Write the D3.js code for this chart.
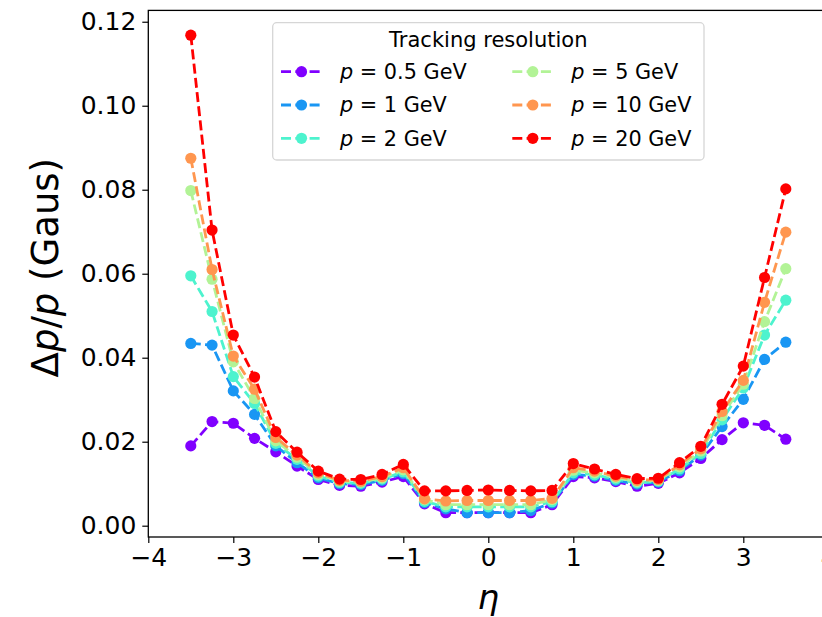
<!DOCTYPE html>
<html>
<head>
<meta charset="utf-8">
<script src="https://cdn.jsdelivr.net/npm/d3@7"></script>
<style>
  html, body { margin: 0; padding: 0; background: #fff; }
  svg { display: block; font-family: "DejaVu Sans", sans-serif; }
</style>
</head>
<body>
<svg id="chart" width="822" height="617"></svg>
<script>
const eta = [-3.5, -3.25, -3, -2.75, -2.5, -2.25, -2, -1.75, -1.5, -1.25, -1, -0.75, -0.5, -0.25, 0,
             0.25, 0.5, 0.75, 1, 1.25, 1.5, 1.75, 2, 2.25, 2.5, 2.75, 3, 3.25, 3.5];

const momenta = ["0.5", "1", "2", "5", "10", "20"];

const res_0p5 = [0.0190, 0.0248, 0.0244, 0.0208, 0.0176, 0.0142, 0.0110, 0.0096, 0.0094, 0.0104, 0.0117, 0.0052, 0.0031, 0.0031, 0.0031,
                 0.0031, 0.0031, 0.0050, 0.0117, 0.0114, 0.0105, 0.0094, 0.0101, 0.0126, 0.0160, 0.0205, 0.0245, 0.0239, 0.0206];
const res_1   = [0.0434, 0.0430, 0.0321, 0.0265, 0.0190, 0.0150, 0.0114, 0.0100, 0.0098, 0.0108, 0.0124, 0.0055, 0.0040, 0.0031, 0.0031,
                 0.0031, 0.0036, 0.0054, 0.0122, 0.0118, 0.0108, 0.0099, 0.0104, 0.0131, 0.0168, 0.0236, 0.0301, 0.0396, 0.0437];
const res_2   = [0.0595, 0.0510, 0.0355, 0.0291, 0.0196, 0.0158, 0.0118, 0.0103, 0.0101, 0.0111, 0.0128, 0.0058, 0.0045, 0.0045, 0.0045,
                 0.0045, 0.0045, 0.0057, 0.0126, 0.0121, 0.0111, 0.0102, 0.0106, 0.0135, 0.0172, 0.0252, 0.0328, 0.0454, 0.0537];
const res_5   = [0.0798, 0.0587, 0.0390, 0.0303, 0.0202, 0.0163, 0.0122, 0.0106, 0.0104, 0.0114, 0.0133, 0.0062, 0.0050, 0.0050, 0.0050,
                 0.0050, 0.0050, 0.0062, 0.0132, 0.0126, 0.0115, 0.0105, 0.0108, 0.0140, 0.0178, 0.0262, 0.0337, 0.0486, 0.0612];
const res_10  = [0.0875, 0.0610, 0.0404, 0.0325, 0.0210, 0.0168, 0.0126, 0.0108, 0.0106, 0.0117, 0.0138, 0.0064, 0.0059, 0.0060, 0.0060,
                 0.0060, 0.0060, 0.0065, 0.0138, 0.0130, 0.0118, 0.0108, 0.0110, 0.0145, 0.0183, 0.0272, 0.0346, 0.0532, 0.0699];
const res_20  = [0.1168, 0.0704, 0.0454, 0.0354, 0.0224, 0.0175, 0.0130, 0.0111, 0.0110, 0.0122, 0.0146, 0.0083, 0.0083, 0.0084, 0.0085,
                 0.0084, 0.0083, 0.0084, 0.0148, 0.0135, 0.0122, 0.0112, 0.0113, 0.0150, 0.0189, 0.0289, 0.0380, 0.0591, 0.0802];

const colors = ["#8000ff", "#1996f3", "#4df3ce", "#b2f396", "#ff964f", "#ff0000"];

const xTicks = [-4, -3, -2, -1, 0, 1, 2, 3, 4];
const yTicks = [0.00, 0.02, 0.04, 0.06, 0.08, 0.10, 0.12];

const legendTitle = "Tracking resolution";

const seriesValues = [res_0p5, res_1, res_2, res_5, res_10, res_20];
const series = momenta.map((p, i) => ({
  label: p, color: colors[i],
  points: eta.map((e, j) => ({ x: e, y: seriesValues[i][j] }))
}));

// ---- layout ----
const L = 148.3, R = 828.3, T = 10.4, B = 537;
const svg = d3.select("#chart");

const x = d3.scaleLinear().domain([-4, 4]).range([L, R]);
const y = d3.scaleLinear().domain([-0.00269, 0.1227]).range([B, T]);

const fmtMinus = v => (v < 0 ? "\u2212" : "") + Math.abs(v);

// axes
const xAxis = d3.axisBottom(x).tickValues(xTicks).tickFormat(fmtMinus).tickSizeOuter(0).tickSize(6).tickPadding(5);
const yAxis = d3.axisLeft(y).tickValues(yTicks).tickFormat(d3.format(".2f")).tickSizeOuter(0).tickSize(6).tickPadding(6);

const gx = svg.append("g").attr("transform", `translate(0,${B})`).call(xAxis);
const gy = svg.append("g").attr("transform", `translate(${L},0)`).call(yAxis);
[gx, gy].forEach(g => {
  g.select(".domain").remove();
  g.selectAll(".tick line").attr("stroke", "#000").attr("stroke-width", 1.2);
  g.selectAll(".tick text").attr("fill", "#000").style("font-size", "25px").style("font-family", "DejaVu Sans");
});

// spines
svg.append("rect").attr("x", L).attr("y", T).attr("width", R - L).attr("height", B - T)
  .attr("fill", "none").attr("stroke", "#000").attr("stroke-width", 1.3);

// series
const line = d3.line().x(d => x(d.x)).y(d => y(d.y));
const plot = svg.append("g");
series.forEach(s => {
  const g = plot.append("g");
  g.append("path").datum(s.points).attr("d", line)
    .attr("fill", "none").attr("stroke", s.color).attr("stroke-width", 2.8)
    .attr("stroke-dasharray", "10,4.3");
  g.selectAll("circle").data(s.points).join("circle")
    .attr("cx", d => x(d.x)).attr("cy", d => y(d.y)).attr("r", 5.6)
    .attr("fill", s.color);
});

// axis labels
svg.append("text").attr("x", x(0)).attr("y", 609).attr("text-anchor", "middle")
  .style("font-size", "34px").style("font-style", "italic").text("η");

const yl = svg.append("text").attr("transform", `translate(58,${(T + B) / 2 - 6}) rotate(-90)`)
  .attr("text-anchor", "middle").style("font-size", "37px");
yl.append("tspan").text("Δ");
yl.append("tspan").style("font-style", "italic").text("p");
yl.append("tspan").text("/");
yl.append("tspan").style("font-style", "italic").text("p");
yl.append("tspan").text(" (Gaus)");

// legend
const lg = svg.append("g");
lg.append("rect").attr("x", 272.7).attr("y", 22.7).attr("width", 431.3).attr("height", 137.3)
  .attr("rx", 4).attr("fill", "#fff").attr("fill-opacity", 0.8)
  .attr("stroke", "#d6d6d6").attr("stroke-width", 1.3);
lg.append("text").attr("x", 488.3).attr("y", 47).attr("text-anchor", "middle")
  .style("font-size", "21px").text(legendTitle);

series.forEach((s, i) => {
  const col = Math.floor(i / 3), row = i % 3;
  const hx = col === 0 ? 281 : 512.3;
  const cy = 71.7 + row * 33.3;
  const e = lg.append("g");
  e.append("line").attr("x1", hx).attr("x2", hx + 41).attr("y1", cy).attr("y2", cy)
    .attr("stroke", s.color).attr("stroke-width", 2.8).attr("stroke-dasharray", "10,4.3");
  e.append("circle").attr("cx", hx + 20.5).attr("cy", cy).attr("r", 5.6).attr("fill", s.color);
  const t = e.append("text").attr("x", hx + 59).attr("y", cy + 7.3).style("font-size", "20.8px");
  t.append("tspan").style("font-style", "italic").text("p");
  t.append("tspan").text(" = " + s.label + " GeV");
});
</script>
</body>
</html>
